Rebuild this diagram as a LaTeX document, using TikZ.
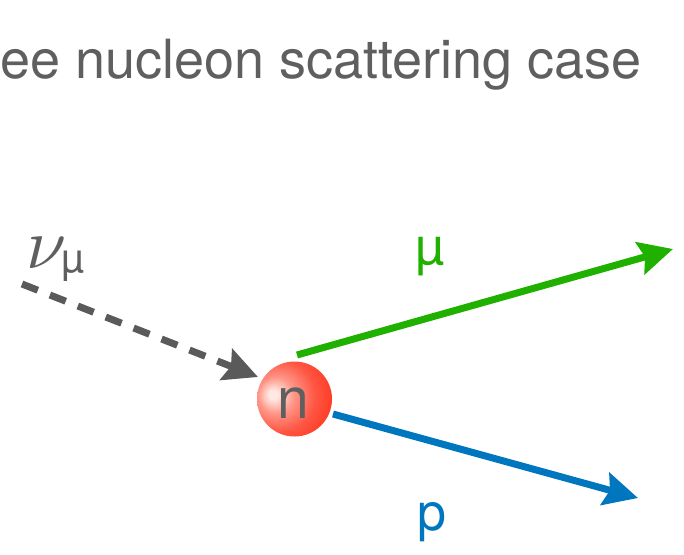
\documentclass[tikz,border=0pt]{standalone}
\usepackage{fontspec}
\setmainfont{TeX Gyre Heros}
\usetikzlibrary{arrows.meta}
\definecolor{txtgray}{RGB}{95,95,95}
\definecolor{nugray}{RGB}{90,90,90}
\definecolor{mugreen}{RGB}{32,176,0}
\definecolor{pblue}{RGB}{0,118,190}
\definecolor{nred}{RGB}{255,38,10}
\definecolor{nlight}{RGB}{255,232,226}
\definecolor{nmid}{RGB}{255,150,136}
\definecolor{nmid2}{RGB}{255,85,66}
\pgfdeclareradialshading{nucleon}{\pgfpoint{-15bp}{3bp}}{color(0bp)=(nlight); color(3bp)=(nlight); color(12bp)=(nmid); color(24bp)=(nmid2); color(42bp)=(nred); color(70bp)=(nred)}
\tikzset{
  lbl/.style={inner sep=0pt, anchor=base, font=\fontsize{52}{60}\selectfont},
  trk/.style={line width=7pt, -{Stealth[length=34pt,width=33pt,inset=5pt]}},
}
\begin{document}
\begin{tikzpicture}[x=1pt,y=-1pt]
\useasboundingbox (0,0) rectangle (684,554);
\node[inner sep=0pt, anchor=base west, text=txtgray, font=\fontsize{54}{60}\selectfont] (title) at (0,78) {ee nucleon scattering case};
% endpoints
\coordinate (nuS) at (22,284);
\coordinate (nuE) at (258,377);
\coordinate (muS) at (297,355);
\coordinate (muE) at (673,249);
\coordinate (pS) at (333,414);
\coordinate (pE) at (638,498);
\draw[trk, nugray, dash pattern=on 17pt off 13pt] (nuS) -- (nuE);
\draw[trk, mugreen] (muS) -- (muE);
\draw[trk, pblue] (pS) -- (pE);
\node[circle, minimum size=75pt, inner sep=0pt, shading=nucleon] (n) at (294.5,399) {};
\node[inner sep=0pt, anchor=base, text=txtgray, font=\fontsize{57}{64}\selectfont] (nlab) at (293,418) {n};
\node[lbl, text=mugreen] (mulab) at (430,264) {µ};
\node[lbl, text=pblue] (plab) at (432,530) {p};
\node[inner sep=0pt, anchor=base west, text=txtgray] (nulab) at (26,268) {\scalebox{7.2}{$\nu$}};
\node[inner sep=0pt, anchor=base west, text=txtgray, font=\fontsize{41}{48}\selectfont] (nusub) at (61,272) {µ};
\end{tikzpicture}
\end{document}
